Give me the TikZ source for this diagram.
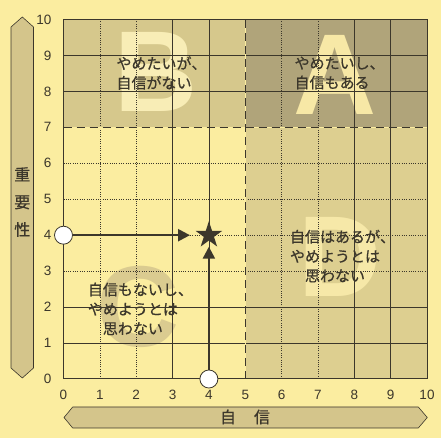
\documentclass[tikz,border=0pt]{standalone}
\usepackage{fontspec}
\setmainfont{Liberation Sans}
\newfontfamily\jp[FakeBold=0.6]{Noto Sans CJK JP}
\usetikzlibrary{shapes.geometric,arrows.meta}
\definecolor{bgy}{HTML}{FBEDA0}
\definecolor{regB}{HTML}{D6C88C}
\definecolor{regA}{HTML}{B0A47A}
\definecolor{regD}{HTML}{DDCF90}
\definecolor{letA}{HTML}{F7E8A6}
\definecolor{letB}{HTML}{F8EDB6}
\definecolor{letD}{HTML}{F6E8A8}
\definecolor{letC}{HTML}{DACB90}
\definecolor{barc}{HTML}{D4C58B}
\definecolor{ink}{HTML}{3C372B}
\begin{document}
\begin{tikzpicture}[x=1pt,y=1pt,
  gridsolid/.style={draw=ink, line width=0.7pt},
  griddot/.style={draw=ink, line width=0.7pt, dash pattern=on 1pt off 1.3pt},
  divline/.style={draw=ink, line width=1.4pt, dash pattern=on 8pt off 5pt},
  jplabel/.style={font=\jp\fontsize{15}{19.5}\selectfont, text=ink, align=center, inner sep=0pt},
  axlabel/.style={font=\jp\fontsize{16}{27.5}\selectfont, text=ink, align=center, inner sep=0pt},
  bigletter/.style={font=\fontsize{115}{115}\selectfont\bfseries, inner sep=0pt},
  ticklab/.style={font=\fontsize{13.5}{14}\selectfont, text=ink, inner sep=0pt},
  arrowline/.style={draw=ink, line width=2.3pt, -{Triangle[length=12pt,width=12pt]}},
  dotc/.style={circle, draw=ink, line width=0.8pt, fill=white, minimum size=18pt, inner sep=0pt},
  starmark/.style={star, star points=5, star point ratio=2.618, fill=ink, minimum size=28pt, inner sep=0pt},
  barshape/.style={fill=barc, draw=ink, line width=0.6pt}
]
\fill[bgy] (0,0) rectangle (441,438);
\useasboundingbox (0,0) rectangle (441,438);
% axis bars
\filldraw[barshape] (11,70) -- (11,411) -- (22.3,421) -- (33.5,411) -- (33.5,70) -- (22.3,60) -- cycle;
\filldraw[barshape] (64,20.5) -- (72.7,31) -- (418.3,31) -- (427.3,20.5) -- (418.3,10) -- (72.7,10) -- cycle;
\node[axlabel] (ylab) at (22.3,236) {重\\要\\性};
\node[axlabel] (xlab) at (245,21) {自\hspace{18pt}信};
\begin{scope}[shift={(63.5,59)}, x=36.35pt, y=35.95pt]
 \fill[regB] (0,7) rectangle (5,10);
 \fill[regA] (5,7) rectangle (10,10);
 \fill[regD] (5,0) rectangle (10,7);
 \node[bigletter, text=letB] (LB) at (2.55,8.54) {B};
 \node[bigletter, text=letA] (LA) at (7.47,8.46) {A};
 \node[bigletter, text=letD] (LD) at (7.6,3.40) {D};
 \node[bigletter, text=letC] (LC) at (2.05,2.00) {C};
 \foreach \i in {1,2,6,7} \draw[griddot] (\i,0) -- (\i,10);
 \foreach \i in {3,4,8,9} \draw[gridsolid] (\i,0) -- (\i,10);
 \foreach \j in {3,4,5,6} \draw[griddot] (0,\j) -- (10,\j);
 \foreach \j in {1,2,8,9} \draw[gridsolid] (0,\j) -- (10,\j);
 \draw[bgy, line width=1.4pt] (0,7) -- (10,7);
 \draw[bgy, line width=1.4pt] (5,0) -- (5,10);
 \draw[divline] (0,7) -- (10,7);
 \draw[divline] (5,0) -- (5,10);
 \draw[ink, line width=1pt] (0,0) rectangle (10,10);
 \foreach \i in {0,...,10} {
   \node[ticklab, anchor=east] (yt\i) at (-0.33,\i) {\i};
   \node[ticklab] (xt\i) at (\i,-0.45) {\i};
 }
 \node[jplabel] (tB) at (2.49,8.51) {やめたいが\rlap{、}\\自信がない};
 \node[jplabel] (tA) at (7.39,8.51) {やめたいし\rlap{、}\\自信もある};
 \node[jplabel] (tD) at (7.47,3.42) {自信はあるが\rlap{、}\\やめようとは\\思わない};
 \node[jplabel] (tC) at (1.91,1.95) {自信もないし\rlap{、}\\やめようとは\\思わない};
 \node[dotc] (c1) at (0,4) {};
 \node[dotc] (c2) at (4,0) {};
 \node[starmark] (st) at (4,4) {};
 \coordinate (htip) at (3.48,4);
 \coordinate (vtip) at (4,3.68);
 \draw[arrowline] (c1) -- (htip);
 \draw[arrowline] (c2) -- (vtip);
\end{scope}
\end{tikzpicture}
\end{document}
